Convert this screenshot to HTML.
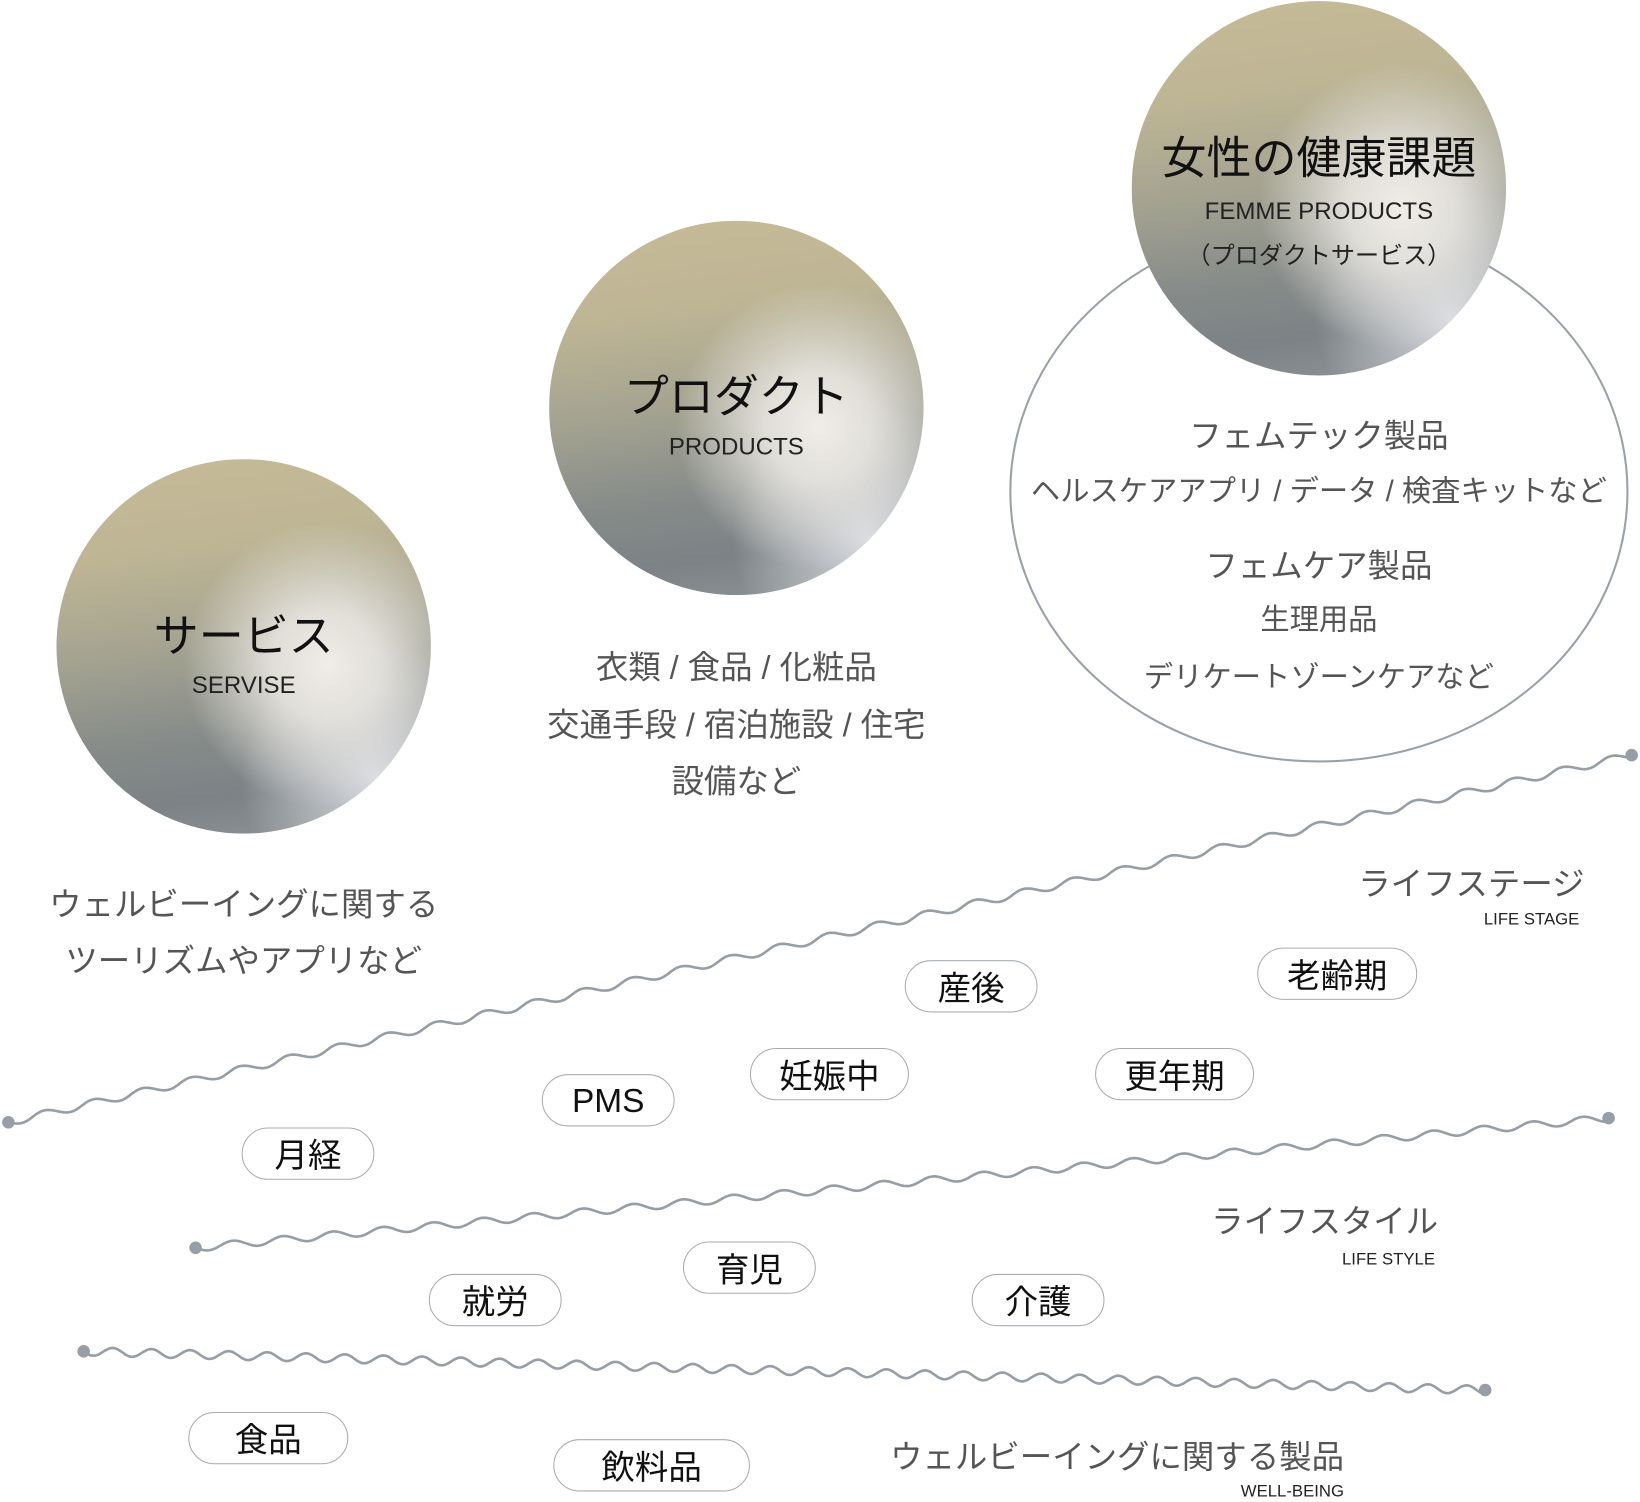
<!DOCTYPE html>
<html><head><meta charset="utf-8"><style>
html,body{margin:0;padding:0;background:#fff;width:1640px;height:1500px;overflow:hidden}
#w{position:absolute;left:0;top:0;width:1568px;height:1434px;transform:scale(1.04592);transform-origin:0 0;font-family:"Liberation Sans","Noto Sans CJK JP",sans-serif}
.c{position:absolute;border-radius:50%;width:358px;height:358px;
background:radial-gradient(circle at 72% 55%,rgba(240,237,232,1) 0%,rgba(236,233,228,.85) 16%,rgba(236,233,228,0) 42%),
radial-gradient(circle at 85% 85%,rgba(215,218,224,1) 0%,rgba(215,218,224,0) 30%),
linear-gradient(172deg,#c6bb98 0%,#beb594 25%,#a4a391 48%,#868b89 70%,#7c8285 85%,#90959b 100%)}
.t{position:absolute;transform:translate(-50%,-50%);white-space:nowrap;text-align:center}
.r{position:absolute;transform:translateY(-50%);white-space:nowrap;text-align:right}
.p{position:absolute;border:1.5px solid #a7acb3;border-radius:30px;box-sizing:border-box;display:flex;align-items:center;justify-content:center;font-size:32px;color:#111;background:#fff}
.g{color:#555}
</style></head><body><div id="w">
<svg width="1568" height="1434" style="position:absolute;left:0;top:0">
<ellipse cx="1261" cy="470" rx="295" ry="258" fill="none" stroke="#9aa1a9" stroke-width="2"/>
<g id="waves" fill="none" stroke="#979ea6" stroke-width="2.5"></g>
<g fill="#979ea6"><circle cx="8" cy="1073" r="6"/><circle cx="1560" cy="722" r="6"/><circle cx="187" cy="1193" r="6"/><circle cx="1538" cy="1069" r="6"/><circle cx="80" cy="1292" r="6"/><circle cx="1420" cy="1329" r="6"/></g>
</svg>
<div class="c" style="left:54px;top:439px"></div>
<div class="c" style="left:525px;top:211px"></div>
<div class="c" style="left:1082px;top:1px"></div>
<div class="t" style="left:233px;top:605px;font-size:43px;color:#111">サービス</div>
<div class="t" style="left:233px;top:655px;font-size:23px;color:#222">SERVISE</div>
<div class="t g" style="left:233px;top:862px;font-size:31px">ウェルビーイングに関する</div>
<div class="t g" style="left:233px;top:916px;font-size:31px">ツーリズムやアプリなど</div>
<div class="t" style="left:704px;top:376px;font-size:43px;color:#111">プロダクト</div>
<div class="t" style="left:704px;top:427px;font-size:23px;color:#222">PRODUCTS</div>
<div class="t g" style="left:704px;top:635px;font-size:31px">衣類 / 食品 / 化粧品</div>
<div class="t g" style="left:704px;top:690px;font-size:31px">交通手段 / 宿泊施設 / 住宅</div>
<div class="t g" style="left:704px;top:744px;font-size:31px">設備など</div>
<div class="t" style="left:1261px;top:148px;font-size:43px;color:#111">女性の健康課題</div>
<div class="t" style="left:1261px;top:202px;font-size:23px;color:#222">FEMME PRODUCTS</div>
<div class="t" style="left:1261px;top:242px;font-size:23px;color:#222">（プロダクトサービス）</div>
<div class="t g" style="left:1261px;top:414px;font-size:31px">フェムテック製品</div>
<div class="t g" style="left:1261px;top:468px;font-size:28px">ヘルスケアアプリ / データ / 検査キットなど</div>
<div class="t g" style="left:1261px;top:538px;font-size:31px">フェムケア製品</div>
<div class="t g" style="left:1261px;top:591px;font-size:28px">生理用品</div>
<div class="t g" style="left:1261px;top:646px;font-size:28px">デリケートゾーンケアなど</div>
<div class="r g" style="right:53px;top:842px;font-size:31px">ライフステージ</div>
<div class="r" style="right:58px;top:880px;font-size:16px;color:#222">LIFE STAGE</div>
<div class="r g" style="right:193px;top:1165px;font-size:31px">ライフスタイル</div>
<div class="r" style="right:196px;top:1205px;font-size:16px;color:#222">LIFE STYLE</div>
<div class="r g" style="right:283px;top:1390px;font-size:31px">ウェルビーイングに関する製品</div>
<div class="r" style="right:283px;top:1427px;font-size:16px;color:#222">WELL-BEING</div>
<div class="p" style="left:865px;top:918px;width:127px;height:50px">産後</div>
<div class="p" style="left:1202px;top:906px;width:153px;height:50px">老齢期</div>
<div class="p" style="left:717px;top:1002px;width:152px;height:50px">妊娠中</div>
<div class="p" style="left:1047px;top:1002px;width:152px;height:50px">更年期</div>
<div class="p" style="left:518px;top:1027px;width:127px;height:50px">PMS</div>
<div class="p" style="left:231px;top:1078px;width:127px;height:50px">月経</div>
<div class="p" style="left:653px;top:1187px;width:127px;height:50px">育児</div>
<div class="p" style="left:410px;top:1218px;width:127px;height:50px">就労</div>
<div class="p" style="left:929px;top:1218px;width:127px;height:50px">介護</div>
<div class="p" style="left:180px;top:1350px;width:153px;height:50px">食品</div>
<div class="p" style="left:529px;top:1376px;width:188px;height:50px">飲料品</div>
</div>
<script>
function wave(x1,y1,x2,y2,wl,amp){
 var dx=x2-x1,dy=y2-y1,L=Math.sqrt(dx*dx+dy*dy),ux=dx/L,uy=dy/L,nx=-uy,ny=ux,d="";
 for(var s=0;s<=L;s+=2){var a=Math.sin(s/wl*2*Math.PI)*amp;var x=x1+ux*s+nx*a,y=y1+uy*s+ny*a;d+=(s?"L":"M")+x.toFixed(1)+" "+y.toFixed(1);}
 d+="L"+x2+" "+y2;
 var p=document.createElementNS("http://www.w3.org/2000/svg","path");p.setAttribute("d",d);document.getElementById("waves").appendChild(p);
}
wave(8,1073,1560,722,48,3.5);
wave(187,1193,1538,1069,48,3.5);
wave(80,1292,1420,1329,37,4);
</script>
</body></html>
